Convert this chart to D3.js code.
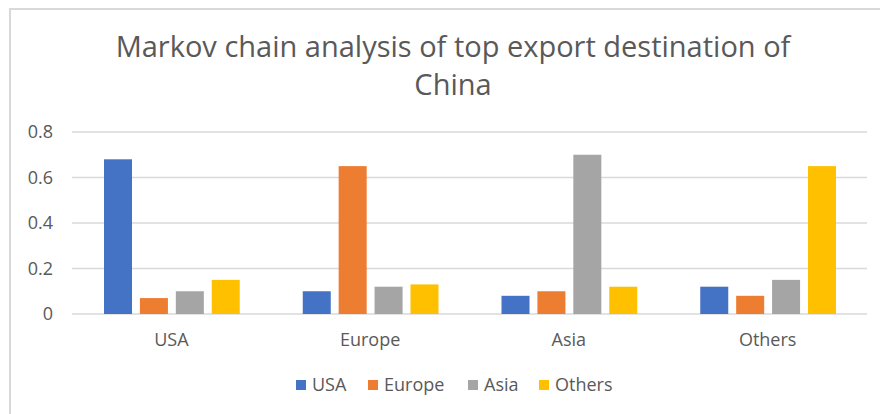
<!DOCTYPE html>
<html>
<head>
<meta charset="utf-8">
<script src="https://cdn.jsdelivr.net/npm/d3@7"></script>
<style>
  body { margin: 0; background: #fff; }
  text { font-family: "Open Sans", Lato, sans-serif; fill: #595959; }
</style>
</head>
<body>
<div id="viz"></div>
<script>
const categories = ['USA', 'Europe', 'Asia', 'Others'];
const seriesNames = ['USA', 'Europe', 'Asia', 'Others'];
const usaValues = [0.68, 0.10, 0.08, 0.12];
const europeValues = [0.07, 0.65, 0.10, 0.08];
const asiaValues = [0.10, 0.12, 0.70, 0.15];
const othersValues = [0.15, 0.13, 0.12, 0.65];
const yTicks = [0, 0.2, 0.4, 0.6, 0.8];
const colorList = ['#4472C4', '#ED7D31', '#A5A5A5', '#FFC000'];

const seriesValues = [usaValues, europeValues, asiaValues, othersValues];

const canvasWidth = 880;
const canvasHeight = 414;
const margin = { top: 132, right: 13, bottom: 100, left: 72 };
const plotWidth = canvasWidth - margin.left - margin.right;
const plotHeight = canvasHeight - margin.top - margin.bottom;

const svg = d3.select('#viz')
  .append('svg')
  .attr('width', canvasWidth)
  .attr('height', canvasHeight);

// chart area border (runs off the right and bottom)
svg.append('rect')
  .attr('x', 10)
  .attr('y', 9)
  .attr('width', canvasWidth + 20)
  .attr('height', canvasHeight + 20)
  .attr('fill', 'none')
  .attr('stroke', '#D9D9D9')
  .attr('stroke-width', 2);

svg.append('text')
  .attr('x', 453)
  .attr('text-anchor', 'middle')
  .style('font-size', '29px')
  .selectAll('tspan')
  .data(['Markov chain analysis of top export destination of', 'China'])
  .enter().append('tspan')
    .attr('x', 453)
    .attr('y', (d, i) => 57 + i * 38)
    .text((d) => d);

const x0 = d3.scaleBand()
  .domain(categories)
  .range([0, plotWidth]);

const x1 = d3.scaleBand()
  .domain(seriesNames)
  .range([32, x0.bandwidth() - 31])
  .paddingInner(0.22);

const y = d3.scaleLinear()
  .domain([0, 0.8])
  .range([plotHeight, 0]);

const plot = svg.append('g')
  .attr('transform', `translate(${margin.left}, ${margin.top})`);

plot.append('g')
  .selectAll('line').data(yTicks)
  .enter().append('line')
    .attr('x1', 0)
    .attr('x2', plotWidth)
    .attr('y1', (d) => y(d))
    .attr('y2', (d) => y(d))
    .attr('stroke', '#D9D9D9')
    .attr('stroke-width', 1.3);

plot.append('g')
  .selectAll('text').data(yTicks)
  .enter().append('text')
    .attr('x', -19)
    .attr('y', (d) => y(d))
    .attr('dy', '0.35em')
    .attr('text-anchor', 'end')
    .style('font-size', '18px')
    .text((d) => d === 0 ? '0' : d3.format('.1f')(d));

const groups = plot.append('g')
  .selectAll('g').data(seriesNames)
  .enter().append('g')
    .attr('fill', (d, i) => colorList[i]);

groups.selectAll('rect')
  .data((s, si) => categories.map((c, ci) => ({ cat: c, series: s, value: seriesValues[si][ci] })))
  .enter().append('rect')
    .attr('x', (d) => x0(d.cat) + x1(d.series))
    .attr('y', (d) => y(d.value))
    .attr('width', x1.bandwidth())
    .attr('height', (d) => plotHeight - y(d.value));

plot.append('g')
  .selectAll('text').data(categories)
  .enter().append('text')
    .attr('x', (d) => x0(d) + x0.bandwidth() / 2)
    .attr('y', plotHeight + 26)
    .attr('dy', '0.35em')
    .attr('text-anchor', 'middle')
    .style('font-size', '18px')
    .text((d) => d);

// legend
const legendX = [296, 368, 468, 539];
const legend = svg.append('g')
  .attr('transform', 'translate(0, 385)');

const legendItems = legend.selectAll('g').data(seriesNames)
  .enter().append('g')
    .attr('transform', (d, i) => `translate(${legendX[i]}, 0)`);

legendItems.append('rect')
  .attr('x', 0)
  .attr('y', -5)
  .attr('width', 10)
  .attr('height', 10)
  .attr('fill', (d, i) => colorList[i]);

legendItems.append('text')
  .attr('x', 16)
  .attr('dy', '0.35em')
  .style('font-size', '18px')
  .text((d) => d);
</script>
</body>
</html>
